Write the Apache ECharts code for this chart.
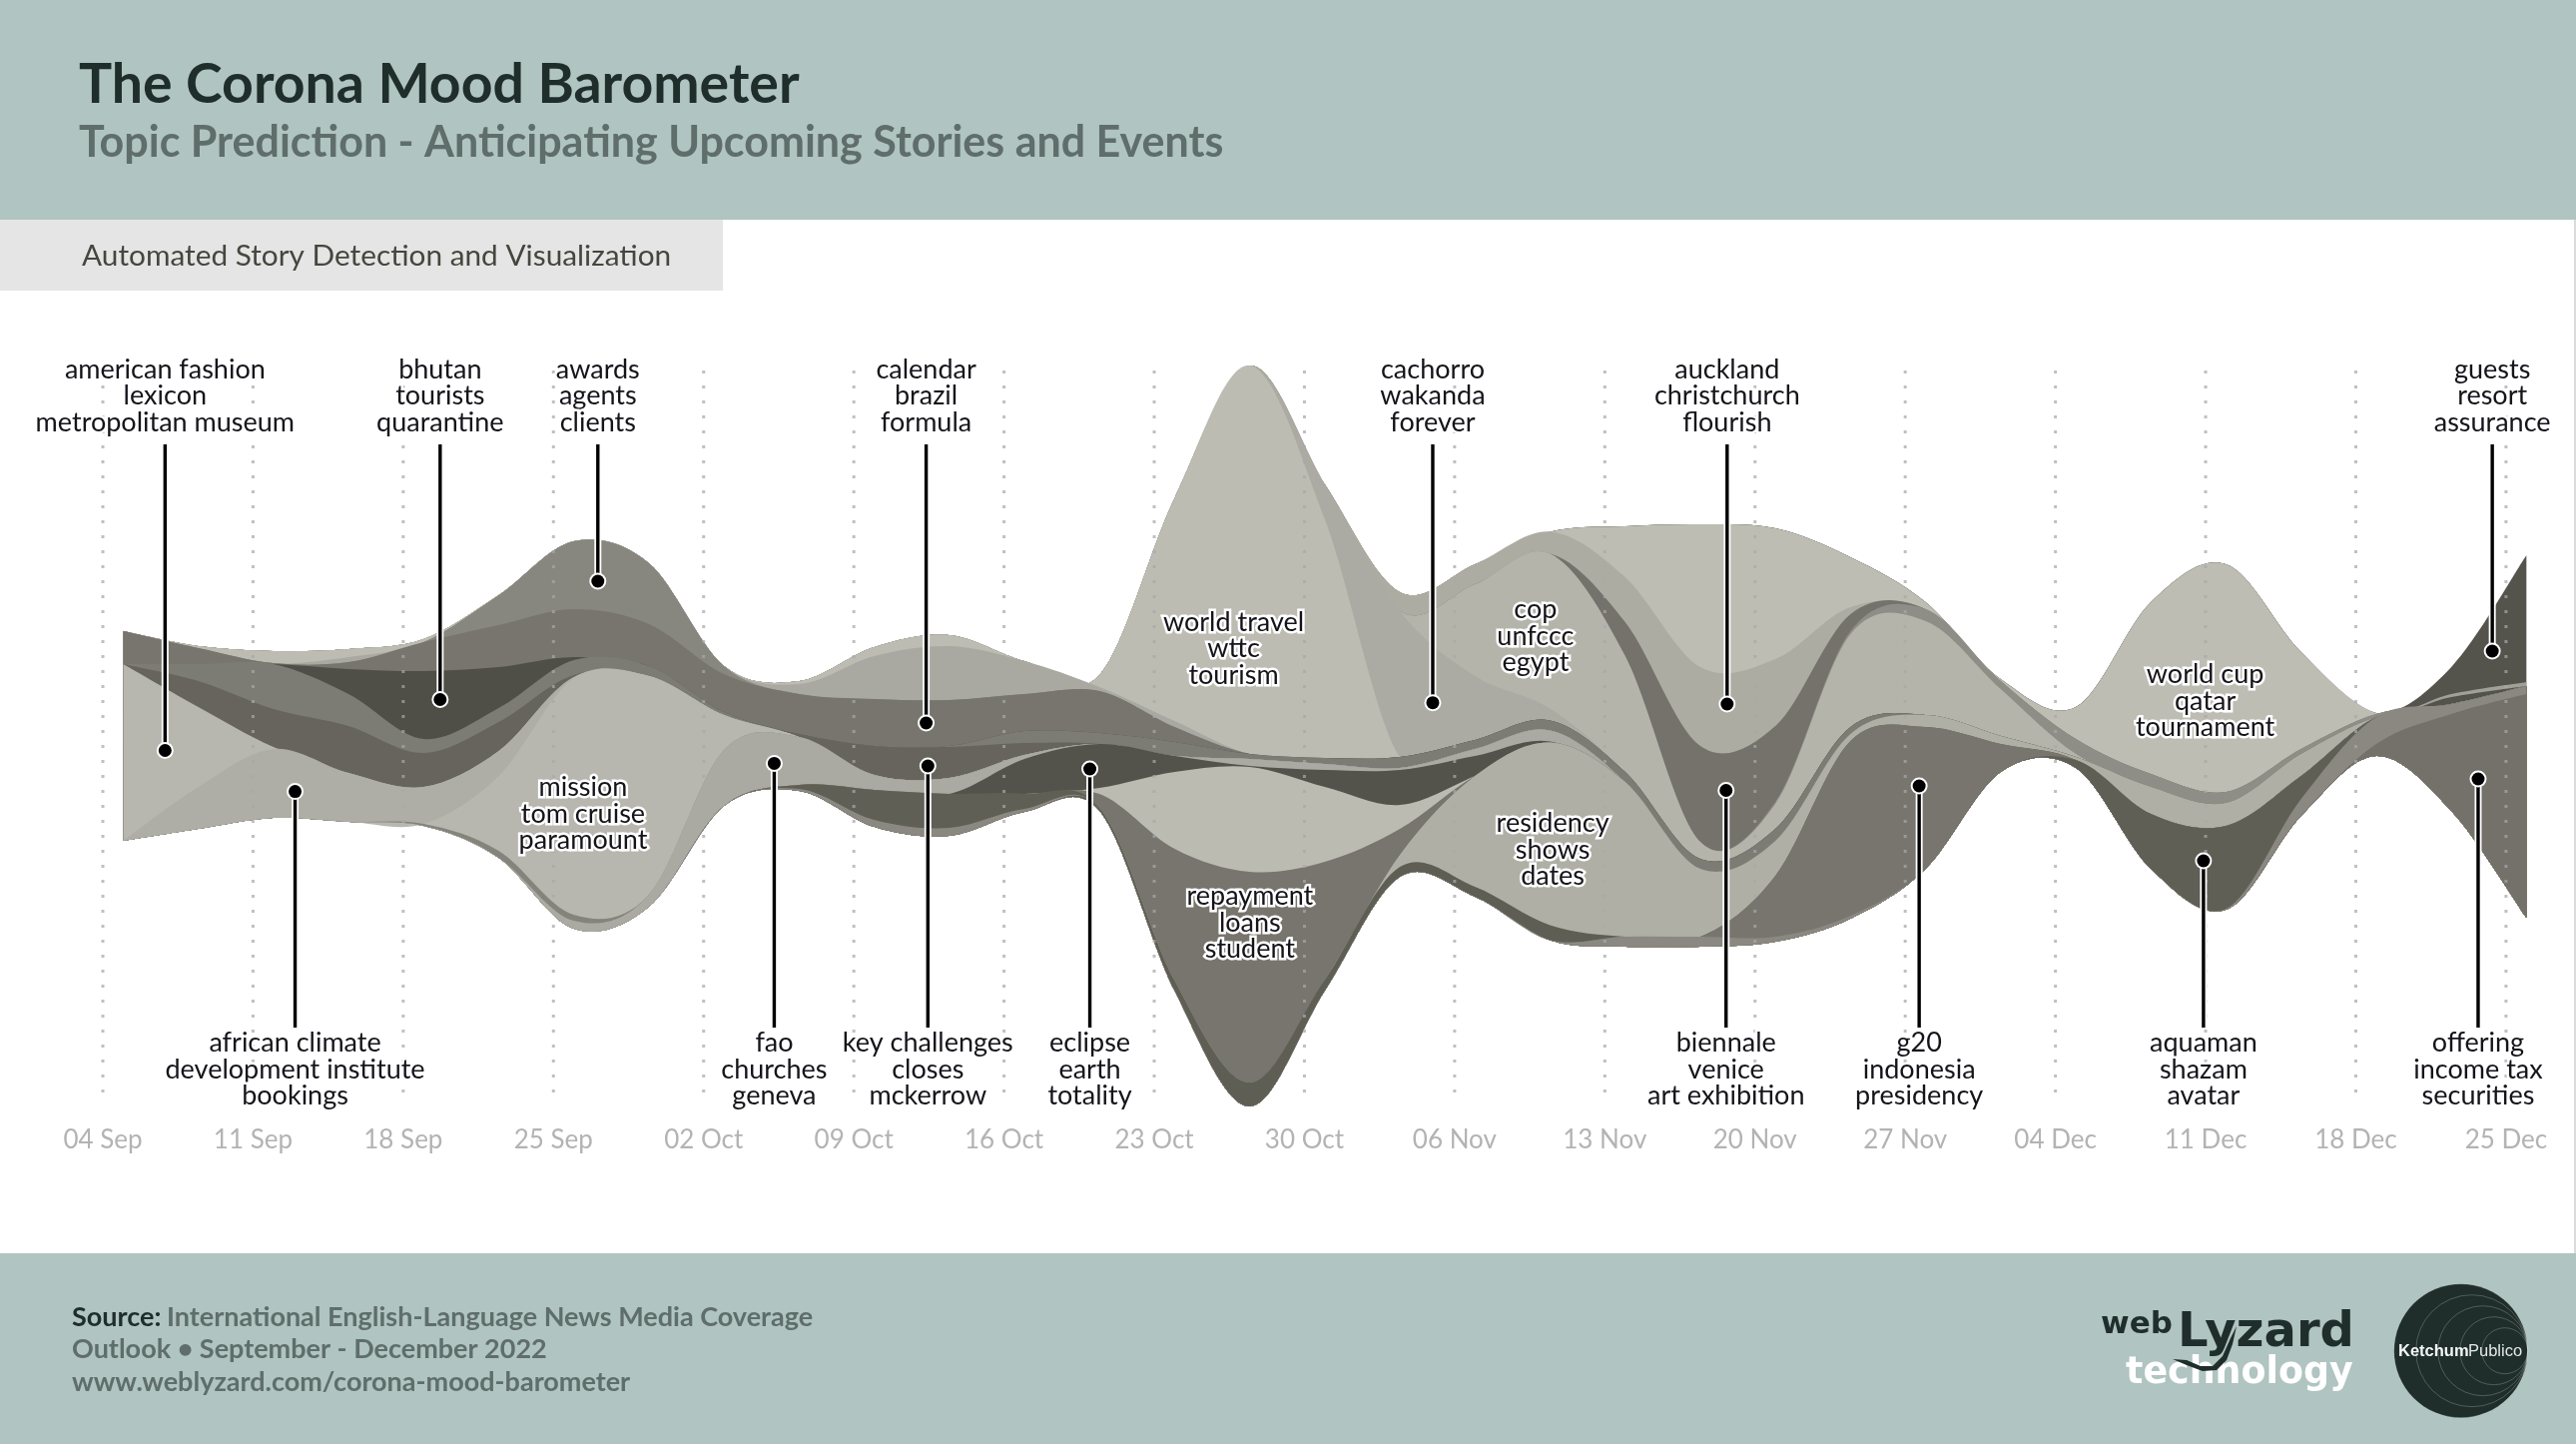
<!DOCTYPE html>
<html><head><meta charset="utf-8">
<style>html,body{margin:0;padding:0;background:#fff}#c{width:2580px;height:1446px}</style>
<script src="https://cdn.jsdelivr.net/npm/echarts@6/dist/echarts.min.js"></script>
</head><body><div id="c"></div>
<script>
const tickLabels = ['04 Sep','11 Sep','18 Sep','25 Sep','02 Oct','09 Oct','16 Oct','23 Oct','30 Oct','06 Nov','13 Nov','20 Nov','27 Nov','04 Dec','11 Dec','18 Dec','25 Dec'];
const tickDays = [0,7,14,21,28,35,42,49,56,63,70,77,84,91,98,105,112];
// sample positions, days after 04 Sep
const days = [0.95,4.45,7.95,11.45,14.95,18.45,21.95,25.45,28.95,32.45,35.95,39.45,42.95,46.45,49.95,53.45,56.95,60.45,63.95,67.45,70.95,74.45,77.95,81.45,84.95,88.45,91.95,95.45,98.95,102.45,105.95,109.45,112.95];
// stream baseline and topic thicknesses, bottom of the stack first
const baseline = [273,285,296,292,288,256,185,207,308,323,287,278,302,303,123,7,123,237,217,173.5,167,167,172,195,245,342,346,245,204,298,358,303,196];
const offering  = [0,0,0,0,0,0,0,0,0,0,0,0,0,0,0,0,0,0,0,0,0,0,0,0,0,0,0,0,0,0,12,97,224];
const stripA    = [0,0,0,0,0,0,0,0,0,0,0,0,0,0,0,0,0,0,0,0,0,0,0,0,0,0,0,0,1,17,27,10,8];
const aquaman   = [0,0,0,0,0,0,0,0,0,0,0,0,0,0,0,0,0,0,0,0,0,0,0,0,0,0,8,55,83,23,0,0,0];
const stripB    = [0,0,0,0,0,0,0,0,0,0,0,0,0,0,0,0,0,0,0,0,10,10,5,3,0,0,0,0,0,0,0,0,0];
const g20       = [0,0,0,0,0,0,0,0,0,0,0,0,0,0,0,0,0,0,0,0,0,0,61,175,142,28,0,0,0,0,0,0,0];
const stripC    = [0,0,0,0,0,0,0,0,0,0,0,0,0,3,10,24,11,10,10,15,0,0,0,0,0,0,0,0,0,0,0,0,0];
const residency = [0,0,0,0,0,0,0,0,0,0,0,0,0,0,0,0,0,12,111,183,155,68,35,7,12,8,3,27,23,22,0,0,0];
const stripD    = [0,0,0,0,0,0,0,0,0,2,7,8,3,0,0,0,0,0,0,0,0,0,0,0,0,0,0,0,0,0,0,0,0];
const darkBand  = [0,0,0,0,0,0,0,0,0,4,30,34,15,0,0,0,0,0,0,0,0,0,0,0,0,0,0,0,0,0,0,0,0];
const repayment = [0,0,0,0,0,0,0,0,0,0,0,0,0,14,132,211,118,26,0,0,0,0,0,0,0,0,0,0,0,0,0,0,0];
const lightLow  = [0,0,0,0,0,0,0,0,0,0,0,0,0,6,77,105,75,24,0,0,0,0,0,0,0,0,0,0,0,0,0,0,0];
const eclipse   = [0,0,0,0,0,0,0,0,0,0,0,0,35,44,16,1,17,35,20,1,0,0,0,0,0,0,0,0,0,0,0,0,0];
const fao       = [0,0,0,0,0,0,8,12,56,48,15,16,4,0,0,7,6,2,7,11,0,0,0,0,0,0,0,0,0,0,0,0,0];
const stripE    = [0,0,0,0,2,7,6,0,0,0,0,0,0,0,0,0,0,0,0,0,0,0,0,0,0,0,0,0,0,0,0,0,0];
const mission   = [0,0,0,0,0,75,237,219,35,0,0,0,0,0,0,0,0,0,0,0,0,0,0,0,0,0,0,0,0,0,0,0,0];
const african   = [0,42,69,49,37,25,1,0,0,0,0,0,0,0,0,0,0,0,0,0,0,0,0,0,0,0,0,0,0,0,0,0,0];
const american  = [177,80,2,0,0,0,0,0,0,0,0,0,0,0,0,0,0,0,0,0,0,0,0,0,0,0,0,0,0,0,0,0,0];
const keyChall  = [0,26,38,47,34,29,2,0,0,3,29,31,12,0,0,0,0,0,0,0,0,0,0,0,0,0,0,0,0,0,0,0,0];
const ringBand  = [0,17,45,32,14,14,15,10,3,0,0,1,12,11,14,5,6,11,9,10,10,10,12,7,0,0,0,0,0,0,0,0,0];
const bhutan    = [0,0,0,25,68,41,3,0,0,0,0,0,0,0,0,0,0,0,0,0,0,0,0,0,0,0,0,0,0,0,0,0,0];
const calendar  = [33,16,1,7,29,42,48,42,38,40,47,46,37,42,15,0,0,0,0,0,0,0,0,0,0,0,0,0,0,0,0,0,0];
const awards    = [0,0,0,0,0,30,68,61,8,0,0,0,0,0,0,0,0,0,0,0,0,0,0,0,0,0,0,0,0,0,0,0,0];
const midGrey   = [0,0,0,5,0,0,0,0,0,10,43,54,33,4,6,0,0,0,0,0,0,0,0,0,0,0,0,0,0,0,0,0,0];
const worldTravel=[0,2,12,8,3,0,0,0,0,3,9,11,0,12,223,389,239,0,0,0,0,0,0,0,0,0,0,0,0,0,0,0,0];
const cachorro  = [0,0,0,0,0,0,0,0,0,0,0,0,0,0,0,0,35,146,64,12,0,0,0,0,0,0,0,0,0,0,0,0,0];
const cop       = [0,0,0,0,0,0,0,0,0,0,0,0,0,0,0,0,0,0,92,155,116,17,25,93,94,47,3,0,0,0,0,0,0];
const greyBand  = [0,0,0,0,0,0,0,0,0,0,0,0,0,0,0,0,0,0,0,0,0,0,2,3,12,8,15,13,11,5,3,0,0];
const biennale  = [0,0,0,0,0,0,0,0,0,0,0,0,0,0,0,0,0,0,0,0,34,96,76,17,0,0,0,0,0,0,0,0,0];
const auckland  = [0,0,0,0,0,0,0,0,0,0,0,0,0,0,0,0,0,19,20,22,45,79,67,7,0,0,0,0,0,0,0,0,0];
const worldCup  = [0,0,0,0,0,0,0,0,0,0,0,0,0,0,0,0,0,0,0,0,51,143,131,50,7,2,32,172,228,97,1,0,0];
const thinDark  = [0,0,0,0,0,0,0,0,0,0,0,0,0,0,0,0,0,0,0,0,0,0,0,0,0,0,0,0,0,0,0,7,0];
const thinLight = [0,0,0,0,0,0,0,0,0,0,0,0,0,0,0,0,0,0,0,0,0,0,0,0,0,0,0,0,0,0,0,3,4];
const guests    = [0,0,0,0,0,0,0,0,0,0,0,0,0,0,0,0,0,0,0,0,0,0,0,0,0,0,0,0,0,0,0,27,127];

const layers = [
 ['offering',offering,'#73716A'],['stripA',stripA,'#8A8880'],['aquaman',aquaman,'#5F5F56'],
 ['stripB',stripB,'#8A8880'],['g20',g20,'#77756D'],['stripC',stripC,'#5F5E55'],
 ['residency',residency,'#AFAFA6'],['stripD',stripD,'#8A8880'],['darkBand',darkBand,'#5F5F56'],
 ['repayment',repayment,'#77756D'],['lightLow',lightLow,'#BBBBB2'],['eclipse',eclipse,'#54534B'],
 ['fao',fao,'#AAAAA2'],['stripE',stripE,'#85847C'],['mission',mission,'#B7B7AF'],
 ['african',african,'#AEAEA6'],['american',american,'#B7B7AF'],['keyChall',keyChall,'#66645C'],
 ['ringBand',ringBand,'#7C7C74'],['bhutan',bhutan,'#4F4E47'],['calendar',calendar,'#77756D'],
 ['awards',awards,'#87877F'],['midGrey',midGrey,'#A9A9A1'],['worldTravel',worldTravel,'#BDBCB3'],
 ['cachorro',cachorro,'#ABABA3'],['cop',cop,'#B4B4AB'],['greyBand',greyBand,'#8F8E86'],
 ['biennale',biennale,'#74726A'],['auckland',auckland,'#ACACA3'],['worldCup',worldCup,'#BDBDB4'],
 ['thinDark',thinDark,'#54534B'],['thinLight',thinLight,'#A0A098'],['guests',guests,'#55544C']
];

// annotations: day, value of the marker, side, keywords
const topics = [
 [2.9,363.5,'top','american fashion\nlexicon\nmetropolitan museum'],
 [8.96,322.4,'bottom','african climate\ndevelopment institute\nbookings'],
 [15.72,414.5,'top','bhutan\ntourists\nquarantine'],
 [23.07,533,'top','awards\nagents\nclients'],
 [31.29,350.6,'bottom','fao\nchurches\ngeneva'],
 [38.37,391,'top','calendar\nbrazil\nformula'],
 [38.45,348,'bottom','key challenges\ncloses\nmckerrow'],
 [46.0,345,'bottom','eclipse\nearth\ntotality'],
 [61.98,411.3,'top','cachorro\nwakanda\nforever'],
 [75.7,410,'top','auckland\nchristchurch\nflourish'],
 [75.65,323.5,'bottom','biennale\nvenice\nart exhibition'],
 [84.65,328,'bottom','g20\nindonesia\npresidency'],
 [97.9,253,'bottom','aquaman\nshazam\navatar'],
 [111.36,463,'top','guests\nresort\nassurance'],
 [110.7,335,'bottom','offering\nincome tax\nsecurities'],
 [22.38,300,'inline','mission\ntom cruise\nparamount'],
 [52.7,465.5,'inline','world travel\nwttc\ntourism'],
 [53.46,191,'inline','repayment\nloans\nstudent'],
 [66.77,478,'inline','cop\nunfccc\negypt'],
 [67.57,264,'inline','residency\nshows\ndates'],
 [97.98,413,'inline','world cup\nqatar\ntournament']
];
const topLabelValue = 718.5, bottomLabelValue = 44, topLeaderEnd = 670, bottomLeaderEnd = 86;
const axisMin = 9, axisMax = 744;

const band = '#B0C4C1', ink = '#1F2E2B', soft = '#5F6E6B';
const chart = echarts.init(document.getElementById('c'), null, {renderer:'canvas', width:2580, height:1446});

function renderTopic(params, api){
  const t = topics[params.dataIndex];
  const p = api.coord([t[0], t[1]]);
  const kids = [];
  const textStyle = (x,y)=>({text:t[3],x,y,textAlign:'center',textVerticalAlign:'middle',fontFamily:'Lato',fontSize:27,lineHeight:26.6,fill:'#14141a',stroke:'#fff',lineWidth:5});
  if (t[2] === 'inline') {
    kids.push({type:'text',style:textStyle(p[0],p[1])});
  } else {
    const isTop = t[2] === 'top';
    const endP = api.coord([t[0], isTop ? topLeaderEnd : bottomLeaderEnd]);
    const labP = api.coord([t[0], isTop ? topLabelValue : bottomLabelValue]);
    const seg = {x1:p[0],y1:p[1],x2:endP[0],y2:endP[1]};
    kids.push({type:'line',shape:seg,style:{stroke:'#fff',lineWidth:7}});
    kids.push({type:'line',shape:seg,style:{stroke:'#000',lineWidth:3.4}});
    kids.push({type:'circle',shape:{cx:p[0],cy:p[1],r:8.5},style:{fill:'#fff'}});
    kids.push({type:'circle',shape:{cx:p[0],cy:p[1],r:6.5},style:{fill:'#000'}});
    kids.push({type:'text',style:textStyle(labP[0],labP[1])});
  }
  return {type:'group',children:kids};
}

// Weekly dotted guides, drawn above the stream
function renderGuide(params, api){
  const d = tickDays[params.dataIndex];
  const a = api.coord([d, axisMax]), b = api.coord([d, axisMin]);
  return {type:'line',shape:{x1:a[0],y1:a[1],x2:b[0],y2:b[1]},style:{stroke:'rgba(168,168,172,.72)',lineWidth:3,lineDash:[3,12]}};
}

// Cumulative tops of the stack
const tops = [];
let running = baseline.slice();
layers.forEach(l=>{
  running = running.map((v,i)=>v+l[1][i]);
  tops.push({name:l[0],color:l[2],values:running});
});
const paintOrder = tops.slice().reverse();

// Cardinal spline through pixel points from the axis scales
function splineSegments(pts){
  let out = '';
  for (let i=0;i<pts.length-1;i++){
    const p0=pts[Math.max(i-1,0)],p1=pts[i],p2=pts[i+1],p3=pts[Math.min(i+2,pts.length-1)];
    const c1=[p1[0]+(p2[0]-p0[0])/6,p1[1]+(p2[1]-p0[1])/6];
    const c2=[p2[0]-(p3[0]-p1[0])/6,p2[1]-(p3[1]-p1[1])/6];
    out+=`C${c1[0].toFixed(2)} ${c1[1].toFixed(2)} ${c2[0].toFixed(2)} ${c2[1].toFixed(2)} ${p2[0].toFixed(2)} ${p2[1].toFixed(2)}`;
  }
  return out;
}
function renderBand(params, api){
  const t = paintOrder[params.dataIndex];
  const upper = days.map((d,i)=>api.coord([d,t.values[i]]));
  const lower = days.map((d,i)=>api.coord([d,baseline[i]])).reverse();
  const d = `M${upper[0][0].toFixed(2)} ${upper[0][1].toFixed(2)}`+splineSegments(upper)+`L${lower[0][0].toFixed(2)} ${lower[0][1].toFixed(2)}`+splineSegments(lower)+'Z';
  return {type:'path',shape:{pathData:d},style:{fill:t.color}};
}

const series = [
  {type:'custom',name:'stream',coordinateSystem:'cartesian2d',data:paintOrder.map(t=>[days[0],t.values[0]]),encode:{x:0,y:1},renderItem:renderBand,z:2,clip:false,silent:true},
  {type:'custom',name:'guides',coordinateSystem:'cartesian2d',data:tickDays.map(d=>[d,axisMin]),encode:{x:0,y:1},renderItem:renderGuide,z:4,clip:false,silent:true},
  {type:'custom',name:'topics',coordinateSystem:'cartesian2d',data:topics.map(t=>[t[0],t[1]]),encode:{x:0,y:1},renderItem:renderTopic,z:10,clip:false,silent:true}
];

const logoRings = [67,56,45,34,23].map(r=>({type:'circle',shape:{cx:2531.7-r,cy:1352.7,r},style:{fill:'none',stroke:'rgba(255,255,255,.22)',lineWidth:1},z:31}));

chart.setOption({
  animation:false,
  backgroundColor:'#fff',
  grid:{left:103,top:371,width:2428.4,height:735,containLabel:false},
  xAxis:{type:'value',min:0,max:113,interval:7,
    axisLine:{show:false},axisTick:{show:false},
    axisLabel:{color:'#B3B3B3',fontFamily:'Lato',fontSize:26,margin:23,showMaxLabel:false,
      formatter:v=>tickLabels[v/7]||''},
    splitLine:{show:false}},
  yAxis:{type:'value',min:axisMin,max:axisMax,show:false,splitLine:{show:false}},
  series,
  graphic:[
    {type:'rect',z:0,shape:{x:0,y:0,width:2580,height:220},style:{fill:band}},
    {type:'rect',z:0,shape:{x:0,y:220,width:724,height:71},style:{fill:'#E5E5E5'}},
    {type:'rect',z:0,shape:{x:0,y:1255,width:2580,height:191},style:{fill:band}},
    {type:'line',z:0,shape:{x1:2579,y1:220,x2:2579,y2:1255},style:{stroke:'#cfcfcf',lineWidth:1.5}},
    {type:'text',z:30,x:79,y:85,style:{text:'The Corona Mood Barometer',fontFamily:'Lato',fontWeight:'bold',fontSize:55.4,fill:ink,textVerticalAlign:'middle'}},
    {type:'text',z:30,x:79,y:143,style:{text:'Topic Prediction - Anticipating Upcoming Stories and Events',fontFamily:'Lato',fontWeight:'bold',fontSize:43,fill:soft,textVerticalAlign:'middle'}},
    {type:'text',z:30,x:82,y:256,style:{text:'Automated Story Detection and Visualization',fontFamily:'Lato',fontSize:29.8,fill:'#46463F',textVerticalAlign:'middle'}},
    {type:'text',z:30,x:72,y:1319,style:{text:'Source:',fontFamily:'Lato',fontWeight:'bold',fontSize:27,fill:ink,textVerticalAlign:'middle'}},
    {type:'text',z:30,x:167,y:1319,style:{text:'International English-Language News Media Coverage',fontFamily:'Lato',fontWeight:'bold',fontSize:27,fill:soft,textVerticalAlign:'middle'}},
    {type:'text',z:30,x:72,y:1351,style:{text:'Outlook \u2022 September - December 2022',fontFamily:'Lato',fontWeight:'bold',fontSize:27,fill:soft,textVerticalAlign:'middle'}},
    {type:'text',z:30,x:72,y:1384,style:{text:'www.weblyzard.com/corona-mood-barometer',fontFamily:'Lato',fontWeight:'bold',fontSize:27,fill:soft,textVerticalAlign:'middle'}},
    {type:'text',z:30,x:2104,y:1342,style:{text:'web',fontFamily:'DejaVu Sans',fontWeight:'bold',fontSize:31,fill:ink,textVerticalAlign:'bottom'}},
    {type:'text',z:30,x:2181,y:1360,style:{text:'Lyzard',fontFamily:'DejaVu Sans',fontWeight:'bold',fontSize:48,fill:ink,textVerticalAlign:'bottom'}},
    {type:'text',z:30,x:2129,y:1394,style:{text:'technology',fontFamily:'DejaVu Sans',fontWeight:'bold',fontSize:36.4,fill:'#fff',textVerticalAlign:'bottom'}},
    {type:'polygon',z:31,shape:{points:[[2176,1361],[2190,1362],[2204,1368],[2216,1368],[2226,1358],[2234,1340],[2240,1328],[2236,1346],[2230,1362],[2220,1372],[2206,1373],[2190,1367]]},style:{fill:ink}},
    {type:'circle',z:30,shape:{cx:2464.7,cy:1352.7,r:67},style:{fill:ink}},
    ...logoRings,
    {type:'text',z:32,x:2402,y:1353,style:{text:'Ketchum',fontFamily:'Liberation Sans',fontWeight:'bold',fontSize:16.5,fill:'#F2F5F4',textVerticalAlign:'middle'}},
    {type:'text',z:32,x:2472,y:1353,style:{text:'Publico',fontFamily:'Liberation Sans',fontSize:16.5,fill:'#E2E8E6',textVerticalAlign:'middle'}}
  ]
});
</script></body></html>
